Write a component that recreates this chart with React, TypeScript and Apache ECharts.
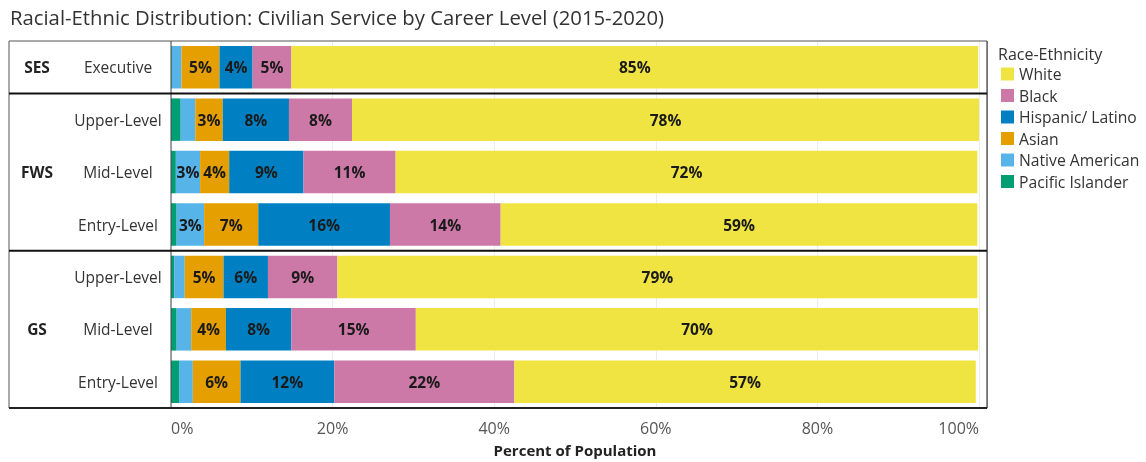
import React, { useEffect, useRef } from "react";
import * as echarts from "echarts";

const groups = ["SES", "FWS", "FWS", "FWS", "GS", "GS", "GS"];
const levels = ["Executive", "Upper-Level", "Mid-Level", "Entry-Level", "Upper-Level", "Mid-Level", "Entry-Level"];
const groupLabelRows = [0, 2, 5];

const seriesNames = ["Pacific Islander", "Native American", "Asian", "Hispanic/ Latino", "Black", "White"];
const legendOrder = ["White", "Black", "Hispanic/ Latino", "Asian", "Native American", "Pacific Islander"];
const colors = ["#009E73", "#56B4E9", "#E69F00", "#0080C2", "#CC79A7", "#F0E442"];

const pacific = [0.1, 1.2, 0.6, 0.7, 0.4, 0.7, 1.0];
const native = [1.2, 1.8, 3.0, 3.4, 1.3, 1.8, 1.7];
const asian = [4.7, 3.4, 3.6, 6.7, 4.8, 4.3, 5.9];
const hispanic = [4.1, 8.2, 9.2, 16.3, 5.5, 8.1, 11.6];
const black = [4.8, 7.8, 11.4, 13.7, 8.6, 15.4, 22.3];
const white = [85.0, 77.6, 72.0, 59.0, 79.2, 69.6, 57.1];

const allValues = [pacific, native, asian, hispanic, black, white];
const xTicks = [0, 20, 40, 60, 80, 100];

const FONT = "'Open Sans', 'Noto Sans', sans-serif";

export default function App() {
  const ref = useRef<HTMLDivElement>(null);
  useEffect(() => {
    if (!ref.current) return;
    const chart = echarts.init(ref.current, undefined, { renderer: "svg" });
    const rowKeys = groups.map((g, i) => g + "|" + levels[i]);
    chart.setOption({
      animation: false,
      textStyle: { fontFamily: FONT },
      title: [
        {
          text: "Racial-Ethnic Distribution: Civilian Service by Career Level (2015-2020)",
          left: 5,
          top: 2,
          textStyle: { fontFamily: FONT, fontSize: 20.3, fontWeight: "normal", color: "#333" },
        },
        {
          text: "Race-Ethnicity",
          left: 993,
          top: 41,
          textStyle: { fontFamily: FONT, fontSize: 16, fontWeight: "normal", color: "#333" },
        },
      ],
      legend: {
        data: legendOrder,
        orient: "vertical",
        left: 1001,
        top: 66,
        padding: 0,
        itemWidth: 13,
        itemHeight: 13,
        itemGap: 5.5,
        icon: "rect",
        textStyle: { fontFamily: FONT, fontSize: 15.7, color: "#333", lineHeight: 16 },
      },
      grid: { left: 171, right: 167, top: 41, bottom: 50 },
      xAxis: {
        type: "value",
        min: 0,
        max: 100,
        interval: 20,
        axisLine: { show: false },
        axisTick: { show: false },
        splitLine: { show: true, lineStyle: { color: "#ececec", width: 1 } },
        axisLabel: {
          formatter: (v: number) => (xTicks.includes(v) ? v + "%" : ""),
          color: "#555",
          fontSize: 16,
          margin: 12,
          alignMinLabel: "left",
          alignMaxLabel: "right",
          fontFamily: FONT,
        },
        name: "Percent of Population",
        nameLocation: "middle",
        nameGap: 34,
        nameTextStyle: { fontFamily: FONT, fontSize: 15, fontWeight: "bold", color: "#222" },
      },
      yAxis: [
        {
          type: "category",
          data: rowKeys,
          inverse: true,
          position: "left",
          axisLine: { show: false },
          axisTick: { show: false },
          axisLabel: {
            formatter: (v: string) => v.split("|")[1],
            align: "center",
            margin: 53,
            fontSize: 15.5,
            color: "#333",
            fontFamily: FONT,
            interval: 0,
          },
        },
        {
          type: "category",
          data: rowKeys,
          inverse: true,
          position: "left",
          axisLine: { show: false },
          axisTick: { show: false },
          axisLabel: {
            formatter: (v: string, i: number) => (groupLabelRows.includes(i) ? v.split("|")[0] : ""),
            align: "center",
            margin: 134,
            fontSize: 15.5,
            fontWeight: "bold",
            color: "#222",
            fontFamily: FONT,
            interval: 0,
          },
        },
      ],
      series: seriesNames.map((name, si) => ({
        name,
        type: "bar",
        stack: "total",
        yAxisIndex: 0,
        barWidth: "81%",
        itemStyle: { color: colors[si] },
        label: {
          show: true,
          position: "inside",
          formatter: (p: any) => (p.value >= 2.5 ? Math.round(p.value) + "%" : ""),
          color: "#1a1a1a",
          fontWeight: "bold",
          fontSize: 15.5,
          fontFamily: FONT,
        },
        emphasis: { disabled: true },
        data: allValues[si],
      })),
    });

    const yc = rowKeys.map((k) => chart.convertToPixel({ yAxisIndex: 0 }, k) as number);
    const band = yc[1] - yc[0];
    const top = yc[0] - band / 2;
    const bottom = yc[yc.length - 1] + band / 2;
    const x0 = chart.convertToPixel({ xAxisIndex: 0 }, 0) as number;
    const xR = chart.convertToPixel({ xAxisIndex: 0 }, 101) as number;
    const xL = 9;
    const seps: number[] = [];
    for (let i = 1; i < groups.length; i++) {
      if (groups[i] !== groups[i - 1]) seps.push(yc[i] - band / 2);
    }
    const graphic: any[] = [
      { type: "line", shape: { x1: xL, y1: top, x2: xR, y2: top }, style: { stroke: "#555", lineWidth: 1 }, z: 100 },
      { type: "line", shape: { x1: xL, y1: top, x2: xL, y2: bottom }, style: { stroke: "#555", lineWidth: 1 }, z: 100 },
      { type: "line", shape: { x1: xR, y1: top, x2: xR, y2: bottom }, style: { stroke: "#555", lineWidth: 1.5 }, z: 100 },
      { type: "line", shape: { x1: x0, y1: top, x2: x0, y2: bottom }, style: { stroke: "#444", lineWidth: 1 }, z: 100 },
      { type: "line", shape: { x1: xL, y1: bottom, x2: xR, y2: bottom }, style: { stroke: "#222", lineWidth: 2 }, z: 100 },
      ...seps.map((y) => ({
        type: "line",
        shape: { x1: xL, y1: y, x2: xR, y2: y },
        style: { stroke: "#111", lineWidth: 2 },
        z: 100,
      })),
    ];
    chart.setOption({ graphic });
    return () => chart.dispose();
  }, []);
  return <div ref={ref} style={{ position: "fixed", left: 0, top: 0, width: 1146, height: 462 }} />;
}
